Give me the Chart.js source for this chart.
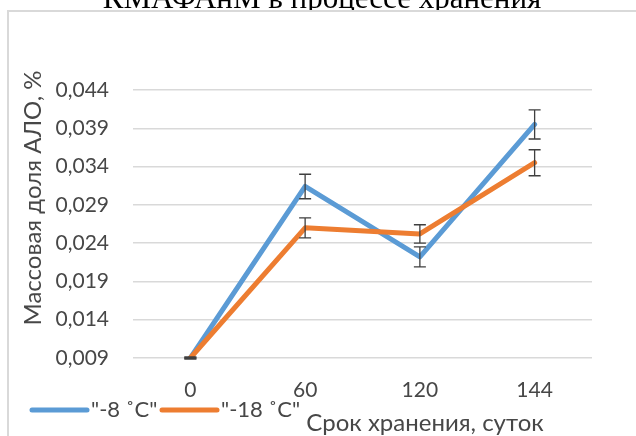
<!DOCTYPE html>
<html>
<head>
<meta charset="utf-8">
<script src="https://cdn.jsdelivr.net/npm/chart.js@4.4.0/dist/chart.umd.min.js"></script>
<style>
body { margin: 0; background: #fff; }
#wrap { position: relative; width: 636px; height: 436px; }
</style>
</head>
<body>
<div id="wrap"><canvas id="aloChart" width="636" height="436"></canvas></div>
<script>
var days = ["0", "60", "120", "144"];
var seriesNames = ['"-8 ˚C"', '"-18 ˚C"'];
var minus8 = [0.009, 0.0314, 0.0222, 0.0395];
var minus18 = [0.009, 0.0260, 0.0252, 0.0345];
var minus8Err = [0.0001, 0.0016, 0.0013, 0.0019];
var minus18Err = [0.0001, 0.0013, 0.0012, 0.0017];
var yTicks = [0.009, 0.014, 0.019, 0.024, 0.029, 0.034, 0.039, 0.044];

var textColor = "#474747";

// error bars, drawn on top of the lines
var errorBars = {
  id: "errorBars",
  afterDatasetsDraw: function(chart) {
    var ctx = chart.ctx, xs = chart.scales.x, ys = chart.scales.y;
    ctx.save();
    ctx.strokeStyle = "#3f3f3f";
    ctx.lineWidth = 1.3;
    chart.data.datasets.forEach(function(ds) {
      ds.errors.forEach(function(e, i) {
        var px = xs.getPixelForValue(i);
        var top = ys.getPixelForValue(ds.data[i] + e);
        var bot = ys.getPixelForValue(ds.data[i] - e);
        ctx.beginPath();
        ctx.moveTo(px, top); ctx.lineTo(px, bot);
        ctx.moveTo(px - 6, top); ctx.lineTo(px + 6, top);
        ctx.moveTo(px - 6, bot); ctx.lineTo(px + 6, bot);
        ctx.stroke();
      });
    });
    ctx.restore();
  }
};

// frame, cut-off title, axis titles and legend
var extras = {
  id: "extras",
  beforeDraw: function(chart) {
    var ctx = chart.ctx;
    ctx.save();
    ctx.fillStyle = "#000";
    ctx.font = "31px 'Liberation Serif'";
    ctx.textAlign = "center";
    ctx.textBaseline = "alphabetic";
    ctx.fillText("КМАФАнМ в процессе хранения", 322, 8);
    ctx.fillStyle = "#fff";
    ctx.fillRect(8, 10, 636, 436);
    ctx.strokeStyle = "#d9d9d9";
    ctx.lineWidth = 2;
    ctx.beginPath();
    ctx.moveTo(8, 436); ctx.lineTo(8, 11); ctx.lineTo(636, 11);
    ctx.stroke();
    ctx.restore();
  },
  afterDraw: function(chart) {
    var ctx = chart.ctx;
    ctx.save();
    ctx.fillStyle = textColor;
    ctx.font = "24px Lato";
    ctx.textBaseline = "middle";
    ctx.textAlign = "center";
    ctx.fillText("Срок хранения, суток", 425, 423);
    ctx.translate(33, 198);
    ctx.rotate(-Math.PI / 2);
    ctx.fillText("Массовая доля АЛО, %", 0, 0);
    ctx.restore();

    ctx.save();
    ctx.font = "22px Lato";
    ctx.textBaseline = "middle";
    ctx.textAlign = "left";
    var starts = [32, 162];
    chart.data.datasets.forEach(function(ds, i) {
      var x0 = starts[i];
      ctx.strokeStyle = ds.borderColor;
      ctx.lineWidth = 5;
      ctx.lineCap = "round";
      ctx.beginPath();
      ctx.moveTo(x0, 410); ctx.lineTo(x0 + 55, 410);
      ctx.stroke();
      ctx.fillStyle = textColor;
      ctx.fillText(ds.label, x0 + 59, 410);
    });
    ctx.restore();
  }
};

var chart = new Chart("aloChart", {
  type: "line",
  data: {
    labels: days,
    datasets: [{
      label: seriesNames[0],
      data: minus8,
      errors: minus8Err,
      borderColor: "#5b9bd5",
      order: 1
    }, {
      label: seriesNames[1],
      data: minus18,
      errors: minus18Err,
      borderColor: "#ed7d31",
      order: 0
    }]
  },
  options: {
    responsive: false,
    animation: false,
    devicePixelRatio: 1,
    layout: { padding: { top: 90, right: 44, bottom: 0, left: 0 } },
    elements: {
      line: { borderWidth: 5, tension: 0, borderCapStyle: "round", borderJoinStyle: "round", fill: false },
      point: { radius: 0, hoverRadius: 0 }
    },
    plugins: { legend: { display: false }, tooltip: { enabled: false } },
    scales: {
      x: {
        offset: true,
        grid: { display: false, drawTicks: false },
        border: { display: false },
        ticks: { color: textColor, font: { family: "Lato", size: 21 }, padding: 20, maxRotation: 0 },
        afterFit: function(s) { s.height = 78; }
      },
      y: {
        min: 0.009,
        max: 0.044,
        afterBuildTicks: function(s) { s.ticks = yTicks.map(function(v) { return { value: v }; }); },
        grid: { color: "#d9d9d9", lineWidth: 1.5, drawTicks: false },
        border: { display: false },
        ticks: {
          color: textColor,
          font: { family: "Lato", size: 21 },
          padding: 24,
          callback: function(v) { return v.toFixed(3).replace(".", ","); }
        },
        afterFit: function(s) { s.width = 133; }
      }
    }
  },
  plugins: [errorBars, extras]
});
</script>
</body>
</html>
